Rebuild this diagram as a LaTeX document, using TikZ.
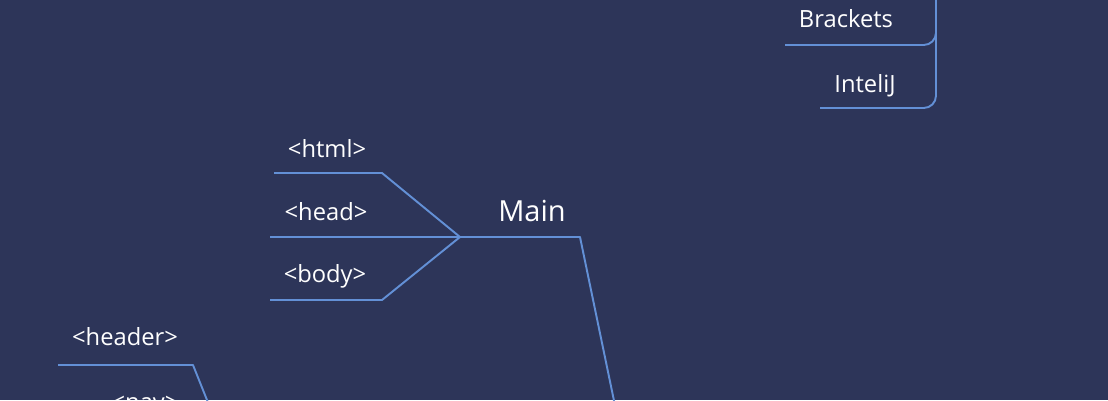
\documentclass[tikz,border=0pt]{standalone}
\usepackage{fontspec}
\setmainfont{Open Sans}
\usetikzlibrary{positioning,calc}
\definecolor{boardbg}{HTML}{2D3559}
\definecolor{branch}{HTML}{6390D6}

\begin{document}
\begin{tikzpicture}[
    x=0.02cm, y=-0.02cm,
    tag/.style={text=white, anchor=base, inner sep=0pt, font=\fontsize{13.5}{16}\selectfont},
    topic/.style={tag, font=\fontsize{16.5}{19}\selectfont},
    limb/.style={draw=branch, line width=1.1pt, line join=round}
]

% ---------------------------------------------------------------- Board
\fill[boardbg] (0,0) rectangle (1108,400);
\useasboundingbox (0,0) rectangle (1108,400);

\begin{scope}
\clip (0,0) rectangle (1108,400);

% ---------------------------------------------------------------- Joints
\coordinate (hub)        at (460,237);
\coordinate (mainKnee)   at (580,237);
\coordinate (mainTail)   at (618,420);
\coordinate (htmlKnee)   at (382,173);
\coordinate (htmlEnd)    at (274,173);
\coordinate (headEnd)    at (270,237);
\coordinate (bodyKnee)   at (382,300);
\coordinate (bodyEnd)    at (270,300);
\coordinate (spine)      at (936,-10);
\coordinate (bracketsEnd) at (785,45);
\coordinate (intelijEnd) at (820,108);
\coordinate (headerEnd)  at (58,365);
\coordinate (headerKnee) at (193,365);
\coordinate (headerTail) at (219,430);

% ---------------------------------------------------------------- Labels
\node[tag]   (html)     at (327,157) {<html>};
\node[tag]   (head)     at (326,220) {<head>};
\node[tag]   (body)     at (325,282) {<body>};
\node[topic] (main)     at (532,221) {Main};
\node[tag]   (brackets) at (846,27)  {Brackets};
\node[tag]   (intelij)  at (865,92)  {InteliJ};
\node[tag]   (header)   at (125,345) {<header>};
\node[tag]   (nav)      at (145,410) {<nav>};

% ---------------------------------------------------------------- Branches
\draw[limb] (mainTail) -- (mainKnee) -- (hub);
\draw[limb] (hub) -- (htmlKnee) -- (htmlEnd);
\draw[limb] (hub) -- (headEnd);
\draw[limb] (hub) -- (bodyKnee) -- (bodyEnd);

% Editors (top right)
\draw[limb, rounded corners=7pt] (spine) |- (bracketsEnd);
\draw[limb, rounded corners=7pt] (spine) |- (intelijEnd);

% Page parts (bottom left)
\draw[limb] (headerEnd) -- (headerKnee) -- (headerTail);
\end{scope}

\end{tikzpicture}
\end{document}
